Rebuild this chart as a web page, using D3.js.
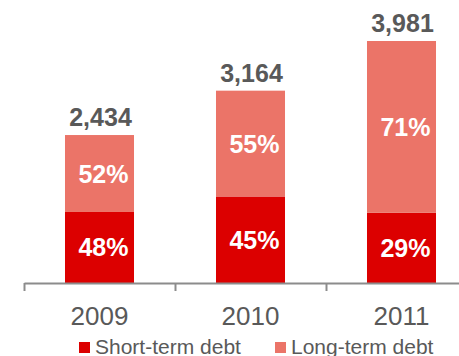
<!DOCTYPE html>
<html>
<head>
<meta charset="utf-8">
<script src="https://cdn.jsdelivr.net/npm/d3@7"></script>
<style>
  body { margin: 0; background: #fff; }
  text { font-family: "Liberation Sans", Arial, sans-serif; }
</style>
</head>
<body>
<svg width="459" height="356"></svg>
<script>
const years = ["2009", "2010", "2011"];
const totals = [2434, 3164, 3981];
const shortPct = [48, 45, 29];
const longPct = [52, 55, 71];
const seriesNames = ["Short-term debt", "Long-term debt"];

const svg = d3.select("svg"),
    baseY = 283,
    topY = 41,
    darkRed = "#dc0000",
    lightRed = "#eb7468",
    gray = "#595959";

const x = d3.scaleBand().domain(years).range([24, 477])
    .paddingInner(0.543).paddingOuter(0.2715);
const y = d3.scaleLinear().domain([0, d3.max(totals)]).range([baseY, topY]);
const color = d3.scaleOrdinal().domain(seriesNames).range([darkRed, lightRed]);

const rows = years.map((yr, i) => ({
    year: yr,
    total: totals[i],
    short: totals[i] * shortPct[i] / 100,
    long: totals[i] * longPct[i] / 100,
    shortPct: shortPct[i],
    longPct: longPct[i]
}));

const stack = d3.stack().keys(["short", "long"]);
const layers = stack(rows);

// bars
const g = svg.append("g");
layers.forEach((layer, li) => {
    g.selectAll(null).data(layer).enter().append("rect")
        .attr("x", d => x(d.data.year))
        .attr("width", x.bandwidth())
        .attr("y", d => y(d[1]))
        .attr("height", d => y(d[0]) - y(d[1]))
        .attr("fill", color(seriesNames[li]));

    // percent labels
    g.selectAll(null).data(layer).enter().append("text")
        .attr("x", d => x(d.data.year) + x.bandwidth() / 2 + 4)
        .attr("y", d => (y(d[0]) + y(d[1])) / 2)
        .attr("dy", "0.36em")
        .attr("text-anchor", "middle")
        .attr("font-size", "25px")
        .attr("font-weight", "bold")
        .attr("fill", "#fff")
        .text(d => (li === 0 ? d.data.shortPct : d.data.longPct) + "%");
});

// totals
g.selectAll(null).data(rows).enter().append("text")
    .attr("x", d => x(d.year) + x.bandwidth() / 2 + 1)
    .attr("y", d => y(d.total) - 9)
    .attr("text-anchor", "middle")
    .attr("font-size", "25px")
    .attr("font-weight", "bold")
    .attr("fill", gray)
    .text(d => d3.format(",")(d.total));

// axis line with ticks at band boundaries
const edge = d3.scaleLinear().domain([0, years.length]).range(x.range());
const axis = svg.append("g")
    .attr("transform", `translate(0,${baseY})`)
    .call(d3.axisBottom(edge).tickValues(d3.range(years.length + 1))
        .tickFormat("").tickSizeInner(8).tickSizeOuter(0));
axis.select(".domain").attr("stroke", "#8c8c8c").attr("stroke-width", 2);
axis.selectAll(".tick line").attr("stroke", "#8c8c8c").attr("stroke-width", 2);

// year labels
const yearAxis = svg.append("g")
    .attr("transform", `translate(0,${baseY})`)
    .call(d3.axisBottom(x).tickSize(0).tickPadding(24));
yearAxis.select(".domain").remove();
yearAxis.selectAll("text")
    .attr("font-size", "26px")
    .attr("font-family", "Liberation Sans, Arial, sans-serif")
    .attr("fill", gray);

// legend
const legendX = [79, 275];
const legend = svg.append("g");
seriesNames.forEach((name, i) => {
    legend.append("rect")
        .attr("x", legendX[i]).attr("y", 342)
        .attr("width", 11).attr("height", 11)
        .attr("fill", color(name));
    legend.append("text")
        .attr("x", legendX[i] + 16).attr("y", 354)
        .attr("font-size", "21px")
        .attr("fill", gray)
        .text(name);
});
</script>
</body>
</html>
